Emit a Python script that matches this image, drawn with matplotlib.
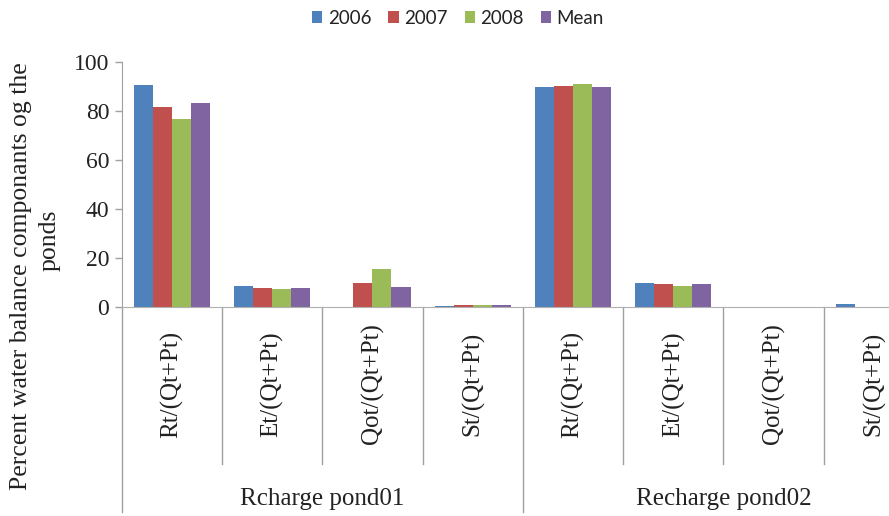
import matplotlib
matplotlib.use("Agg")
import matplotlib.pyplot as plt
import matplotlib.transforms as mtransforms
import numpy as np

categories = ["Rt/(Qt+Pt)", "Et/(Qt+Pt)", "Qot/(Qt+Pt)", "St/(Qt+Pt)",
              "Rt/(Qt+Pt)", "Et/(Qt+Pt)", "Qot/(Qt+Pt)", "St/(Qt+Pt)"]
groups = ["Rcharge pond01", "Recharge pond02"]
series_names = ["2006", "2007", "2008", "Mean"]
v2006 = [90.6, 8.6, 0.0, 0.5, 89.8, 9.9, 0.0, 1.2]
v2007 = [81.6, 7.9, 9.9, 1.0, 90.2, 9.5, 0.0, 0.0]
v2008 = [76.7, 7.2, 15.5, 1.0, 91.0, 8.7, 0.0, 0.0]
vmean = [83.3, 7.8, 8.2, 0.7, 89.8, 9.5, 0.0, 0.0]
yticks = [0, 20, 40, 60, 80, 100]
ylabel = "Percent water balance componants og the\nponds"

colors = ["#4F81BD", "#C0504D", "#9BBB59", "#8064A2"]
serif = ["Liberation Serif", "DejaVu Serif"]
txtcol = "#222222"

W, H = 889, 516
fig = plt.figure(figsize=(W/100, H/100), dpi=100)
ax_left, ax_right, ax_top, ax_bot = 121.7, 924.0, 62.0, 307.0
ax = fig.add_axes([ax_left/W, 1-ax_bot/H, (ax_right-ax_left)/W, (ax_bot-ax_top)/H])

x = np.arange(len(categories))
w = 0.19
for i, (vals, c, n) in enumerate(zip([v2006, v2007, v2008, vmean], colors, series_names)):
    ax.bar(x + (i - 1.5) * w, vals, width=w, color=c, label=n, linewidth=0)

ax.set_xlim(-0.5, len(categories) - 0.5)
ax.set_ylim(0, 100)
ax.set_yticks(yticks)
ax.set_yticklabels([str(t) for t in yticks], fontfamily=serif, fontsize=17, color=txtcol)
ax.tick_params(axis="y", direction="out", length=5, color="#A0A0A0", width=1, pad=4)
ax.set_xticks([])
for s in ["top", "right"]:
    ax.spines[s].set_visible(False)
ax.spines["left"].set_color("#A0A0A0")
ax.spines["bottom"].set_color("#B0B0B0")

trans = mtransforms.blended_transform_factory(ax.transData, ax.transAxes)
ph = ax_bot - ax_top
def ay(py):
    return (ax_bot - py) / ph

ax.plot([-0.5, -0.5], [0, ay(512)], transform=trans, color="#A0A0A0", lw=1, clip_on=False)
for b in range(1, len(categories)):
    bottom = ay(512) if b == 4 else ay(464)
    ax.plot([b - 0.5, b - 0.5], [0, bottom], transform=trans, color="#A0A0A0", lw=1, clip_on=False)
for i, cat in enumerate(categories):
    ax.text(i, ay(384), cat, transform=trans, rotation=90, ha="center", va="center",
            fontfamily=serif, fontsize=18, color=txtcol)
for g, name in enumerate(groups):
    ax.text(1.5 + 4 * g, ay(499), name, transform=trans, ha="center", va="center",
            fontfamily=serif, fontsize=18, color=txtcol)

lines = ylabel.split("\n")
fig.text(21/W, 1-276/H, lines[0], rotation=90, ha="center", va="center",
         fontfamily=serif, fontsize=18.5, color=txtcol)
fig.text(50/W, 1-240/H, lines[1], rotation=90, ha="center", va="center",
         fontfamily=serif, fontsize=18.5, color=txtcol)

leg = ax.legend(loc="center", bbox_to_anchor=(458/W, 1-18/H), bbox_transform=fig.transFigure,
                ncol=4, frameon=False, handlelength=0.55, handleheight=0.55, handletextpad=0.3,
                columnspacing=0.9, borderpad=0, prop={"family": ["Lato", "DejaVu Sans"], "size": 13.5})
for t in leg.get_texts():
    t.set_color(txtcol)

fig.savefig("out.png", dpi=100)
